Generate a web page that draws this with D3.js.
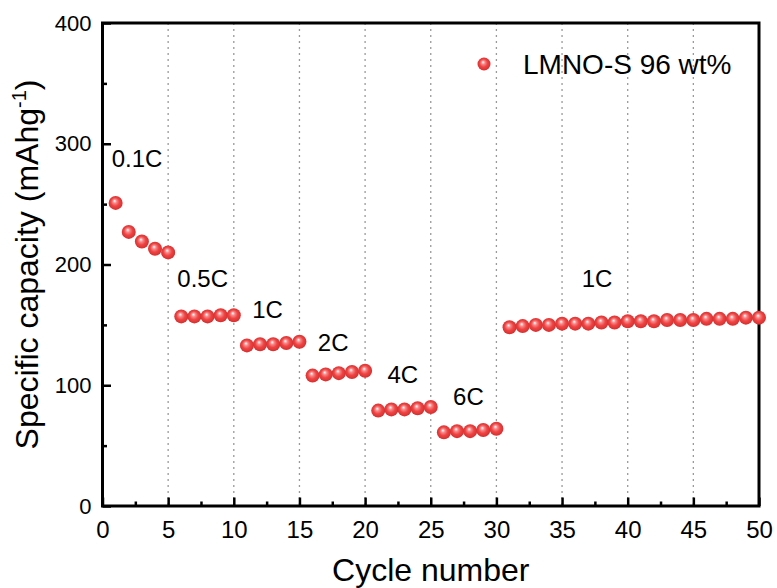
<!DOCTYPE html>
<html>
<head>
<meta charset="utf-8">
<script src="https://cdn.jsdelivr.net/npm/d3@7"></script>
<style>
  html,body{margin:0;padding:0;background:#fff}
  svg{display:block}
  text{font-family:"Liberation Sans",Arial,sans-serif;fill:#000}
</style>
</head>
<body>
<svg id="chart" width="777" height="588"></svg>
<script>
// values
const cycles = d3.range(1, 51)
const capacity = [
  251, 227, 219, 213, 210,
  157, 157, 157, 158, 158,
  133, 134, 134, 135, 136,
  108, 109, 110, 111, 112,
  79, 80, 80, 81, 82,
  61, 62, 62, 63, 64,
  148, 149, 150, 150, 151, 151, 151, 152, 152, 153,
  153, 153, 154, 154, 154, 155, 155, 155, 156, 156
]
const rateLabels = ['0.1C', '0.5C', '1C', '2C', '4C', '6C', '1C']
const rateLabelCycle = [0.7, 5.7, 11.4, 16.4, 21.7, 26.7, 36.5]
const rateLabelCap = [281, 181, 156, 128, 102, 84, 181]
const xTicks = [0, 5, 10, 15, 20, 25, 30, 35, 40, 45, 50]
const yTicks = [0, 100, 200, 300, 400]
const seriesName = 'LMNO-S 96 wt%'

const svg = d3.select('#chart')
const m = {left: 102.5, right: 759, top: 23, bottom: 506}

const x = d3.scaleLinear().domain([0, 50]).range([m.left, m.right])
const y = d3.scaleLinear().domain([0, 400]).range([m.bottom, m.top])

// sphere-like marker gradient
const defs = svg.append('defs')
const grad = defs.append('radialGradient').attr('id', 'ball')
  .attr('cx', '50%').attr('cy', '50%').attr('r', '55%')
  .attr('fx', '42%').attr('fy', '35%')
grad.append('stop').attr('offset', '0%').attr('stop-color', '#ffffff')
grad.append('stop').attr('offset', '25%').attr('stop-color', '#f68a8a')
grad.append('stop').attr('offset', '55%').attr('stop-color', '#f04444')
grad.append('stop').attr('offset', '100%').attr('stop-color', '#d02a2a')

// dotted vertical grid at major x ticks
svg.append('g').selectAll('line')
  .data(xTicks.filter(d => d > 0 && d < 50)).enter().append('line')
  .attr('x1', d => x(d)).attr('x2', d => x(d))
  .attr('y1', m.top).attr('y2', m.bottom)
  .attr('stroke', '#9a9a9a').attr('stroke-width', 1.3)
  .attr('stroke-dasharray', '2,4')

// minor ticks (inward)
const xMinor = d3.range(2.5, 50, 5)
const yMinor = d3.range(50, 400, 100)
svg.append('g').attr('transform', `translate(0,${m.bottom})`)
  .call(d3.axisBottom(x).tickValues(xMinor).tickSize(-4.5).tickFormat(''))
  .call(g => g.select('.domain').remove())
  .selectAll('line').attr('stroke-width', 2.5)
svg.append('g').attr('transform', `translate(${m.left},0)`)
  .call(d3.axisLeft(y).tickValues(yMinor).tickSize(-4.5).tickFormat(''))
  .call(g => g.select('.domain').remove())
  .selectAll('line').attr('stroke-width', 2.5)

// major axes
const xAxis = svg.append('g').attr('transform', `translate(0,${m.bottom})`)
  .call(d3.axisBottom(x).tickValues(xTicks).tickSize(-8.5).tickPadding(15))
xAxis.select('.domain').remove()
xAxis.selectAll('line').attr('stroke-width', 2.5)
xAxis.selectAll('text').style('font-size', '24px').style('font-family', '"Liberation Sans",Arial,sans-serif')

const yAxis = svg.append('g').attr('transform', `translate(${m.left},0)`)
  .call(d3.axisLeft(y).tickValues(yTicks).tickSize(-8.5).tickPadding(11))
yAxis.select('.domain').remove()
yAxis.selectAll('line').attr('stroke-width', 2.5)
yAxis.selectAll('text').style('font-size', '22px').style('font-family', '"Liberation Sans",Arial,sans-serif')

// frame
svg.append('rect')
  .attr('x', m.left).attr('y', m.top)
  .attr('width', m.right - m.left).attr('height', m.bottom - m.top)
  .attr('fill', 'none').attr('stroke', '#000').attr('stroke-width', 3)

// data points
svg.append('g').selectAll('circle')
  .data(cycles).enter().append('circle')
  .attr('cx', (d, i) => x(d))
  .attr('cy', (d, i) => y(capacity[i]))
  .attr('r', 7)
  .attr('fill', 'url(#ball)')

// rate annotations
svg.append('g').selectAll('text')
  .data(rateLabels).enter().append('text')
  .attr('x', (d, i) => x(rateLabelCycle[i]))
  .attr('y', (d, i) => y(rateLabelCap[i]))
  .style('font-size', '24px')
  .text(d => d)

// legend
svg.append('circle').attr('cx', 484).attr('cy', 64).attr('r', 6.5).attr('fill', 'url(#ball)')
svg.append('text').attr('x', 523).attr('y', 74).style('font-size', '28px').text(seriesName)

// axis titles
svg.append('text')
  .attr('x', (m.left + m.right) / 2).attr('y', 581)
  .attr('text-anchor', 'middle').style('font-size', '32px')
  .text('Cycle number')

const yt = svg.append('text')
  .attr('transform', `translate(38,${(m.top + m.bottom) / 2}) rotate(-90)`)
  .attr('text-anchor', 'middle').style('font-size', '32px')
yt.append('tspan').text('Specific capacity (mAhg')
yt.append('tspan').attr('dy', -12).style('font-size', '20px').text('-1')
yt.append('tspan').attr('dy', 12).text(')')
</script>
</body>
</html>
